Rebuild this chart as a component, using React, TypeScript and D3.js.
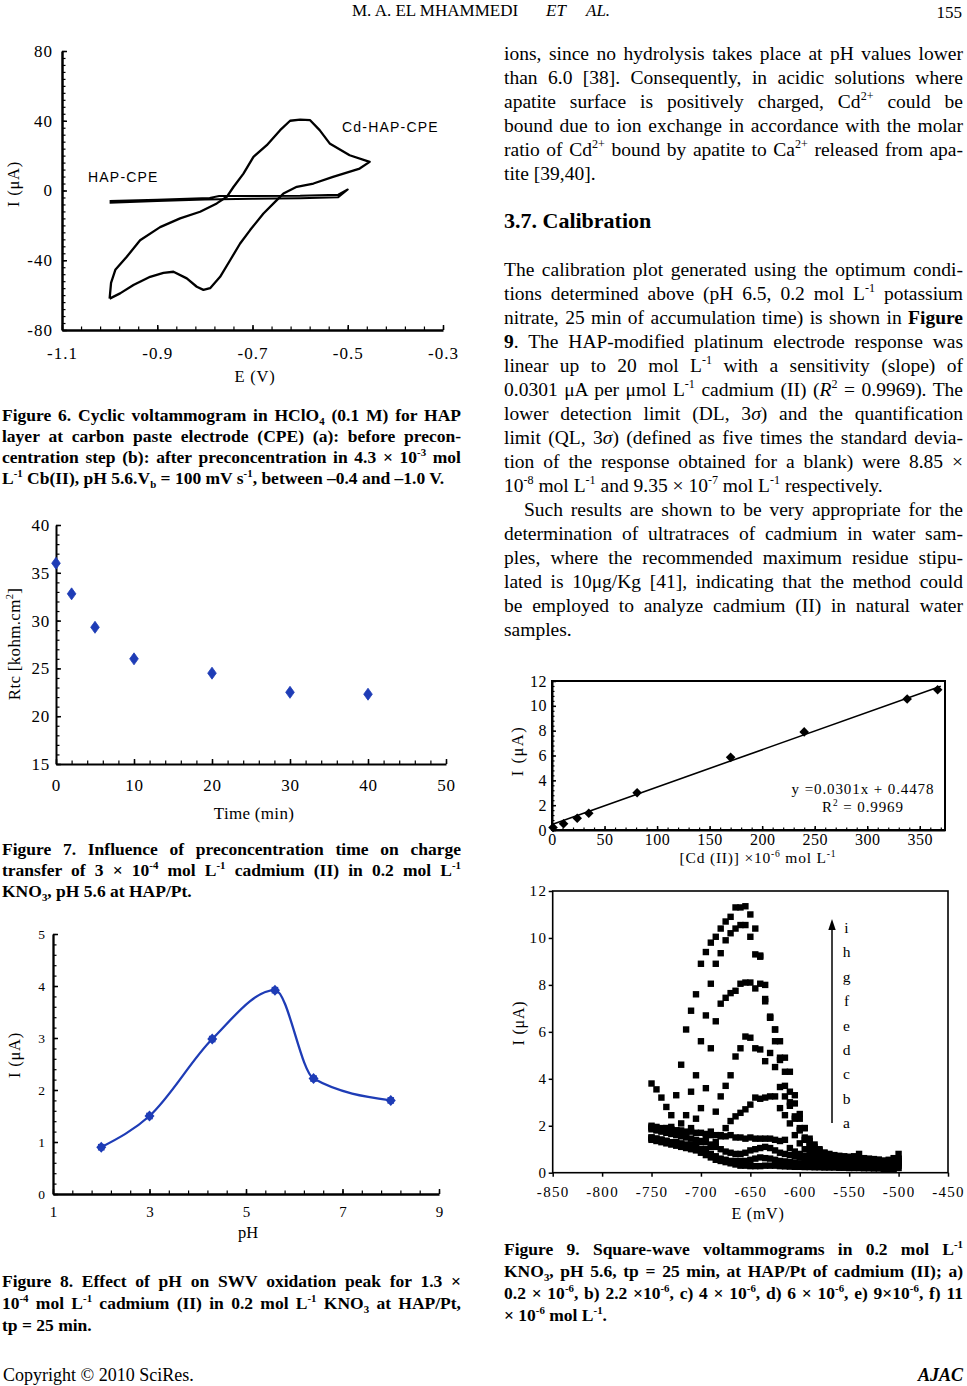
import { useEffect, useRef } from "react";
import * as d3 from "d3";

const SERIF = "'Liberation Serif', 'Times New Roman', serif";
const SANS = "'Liberation Sans', Arial, sans-serif";
const BLUE = "#1e3cb6";

// ---- Figure 6: cyclic voltammograms, [E (V), I (uA)]
const cdHapCpe: [number, number][] = [
  [-1.0, -62], [-0.997, -53], [-0.988, -45.5], [-0.964, -38], [-0.936, -28.5],
  [-0.894, -21], [-0.852, -16], [-0.81, -12.2], [-0.775, -7.4], [-0.754, -3.6],
  [-0.74, 2], [-0.719, 9.7], [-0.698, 19.3], [-0.67, 26], [-0.642, 34.6],
  [-0.621, 40], [-0.6, 40.7], [-0.579, 40.3], [-0.559, 34.6], [-0.538, 27],
  [-0.496, 20.2], [-0.454, 16.4], [-0.475, 12.6], [-0.531, 7.8], [-0.572, 4],
  [-0.607, 2.1], [-0.635, -1.7], [-0.649, -5.5], [-0.677, -13.2], [-0.705, -22.7],
  [-0.726, -30.4], [-0.747, -40], [-0.768, -49.5], [-0.789, -56], [-0.803, -57],
  [-0.817, -55.2], [-0.838, -50.4], [-0.866, -46.6], [-0.887, -47.2], [-0.915, -49.5],
  [-0.95, -54.2], [-0.978, -59], [-1.0, -62],
];
const hapCpe: [number, number][] = [
  [-1.0, -6.0], [-0.9, -5.3], [-0.79, -4.3], [-0.77, -3.2], [-0.6, -3.0],
  [-0.52, -2.4], [-0.5, 0.6], [-0.52, -3.8], [-0.6, -4.4], [-0.7, -4.8],
  [-0.8, -5.2], [-0.9, -6.0], [-1.0, -7.0],
];
const fig6ETicks = [-1.1, -0.9, -0.7, -0.5, -0.3];
const fig6ITicks = [-80, -40, 0, 40, 80];

// ---- Figure 7: Rtc vs preconcentration time
const fig7Time = [0, 2, 5, 10, 20, 30, 40];
const fig7Rtc = [36, 32.8, 29.3, 26, 24.5, 22.5, 22.3];
const fig7TimeTicks = [0, 10, 20, 30, 40, 50];
const fig7RtcTicks = [15, 20, 25, 30, 35, 40];

// ---- Figure 8: peak current vs pH
const fig8Ph = [2, 3, 4.3, 5.6, 6.4, 8];
const fig8Peak = [0.9, 1.5, 2.98, 3.92, 2.22, 1.8];
const fig8PhTicks = [1, 3, 5, 7, 9];
const fig8ITicks = [0, 1, 2, 3, 4, 5];

// ---- Calibration plot
const calConc = [1, 11, 24, 35, 81, 170, 240, 338, 367];
const calCurrent = [0.2, 0.5, 0.95, 1.35, 3.0, 5.85, 7.9, 10.55, 11.3];
const calSlope = 0.0301;
const calIntercept = 0.4478;
const calFitRange = [0, 370];
const calConcTicks = [0, 50, 100, 150, 200, 250, 300, 350];
const calITicks = [0, 2, 4, 6, 8, 10, 12];

// ---- Figure 9: square-wave voltammograms (E in mV, I in uA)
const swvE = [
  -750, -745, -740, -735, -730, -725, -720, -715, -710, -705,
  -700, -695, -690, -685, -680, -675, -670, -665, -660, -655,
  -650, -645, -640, -635, -630, -625, -620, -615, -610, -605,
  -600, -595, -590, -585, -580, -575, -570, -565, -560, -555,
  -550, -545, -540, -535, -530, -525, -520, -515, -510, -505,
  -500,
];
const swvA = [
  1.40, 1.35, 1.30, 1.25, 1.20, 1.15, 1.10, 1.05, 1.00, 0.95,
  0.85, 0.75, 0.65, 0.55, 0.50, 0.45, 0.40, 0.35, 0.30, 0.30,
  0.28, 0.28, 0.28, 0.30, 0.30, 0.30, 0.28, 0.27, 0.26, 0.25,
  0.25, 0.24, 0.24, 0.23, 0.23, 0.22, 0.22, 0.22, 0.21, 0.21,
  0.20, 0.20, 0.20, 0.19, 0.19, 0.18, 0.18, 0.16, 0.15, 0.15,
  0.20,
];
const swvB = [
  1.50, 1.45, 1.40, 1.35, 1.30, 1.25, 1.20, 1.15, 1.10, 1.00,
  0.95, 0.90, 0.80, 0.70, 0.60, 0.55, 0.50, 0.50, 0.50, 0.50,
  0.55, 0.60, 0.65, 0.62, 0.60, 0.55, 0.50, 0.48, 0.45, 0.43,
  0.40, 0.38, 0.36, 0.35, 0.34, 0.33, 0.32, 0.31, 0.30, 0.30,
  0.29, 0.28, 0.28, 0.27, 0.26, 0.26, 0.25, 0.24, 0.22, 0.20,
  0.30,
];
const swvC = [
  1.85, 1.80, 1.75, 1.70, 1.65, 1.60, 1.55, 1.50, 1.45, 1.40,
  1.35, 1.30, 1.20, 1.10, 1.00, 0.90, 0.85, 0.80, 0.80, 0.85,
  0.95, 1.00, 1.05, 1.10, 1.05, 0.95, 0.85, 0.80, 0.75, 0.70,
  0.65, 0.60, 0.55, 0.52, 0.50, 0.48, 0.46, 0.45, 0.44, 0.43,
  0.42, 0.41, 0.40, 0.40, 0.39, 0.38, 0.37, 0.36, 0.33, 0.30,
  0.40,
];
const swvD = [
  2.00, 1.95, 1.90, 1.90, 1.85, 1.80, 1.80, 1.75, 1.75, 1.70,
  1.70, 1.65, 1.60, 1.60, 1.55, 1.55, 1.60, 1.50, 1.50, 1.45,
  1.50, 1.45, 1.45, 1.45, 1.45, 1.40, 1.35, 1.40, 1.05, 0.90,
  0.80, 0.72, 0.66, 0.62, 0.58, 0.55, 0.53, 0.51, 0.50, 0.49,
  0.48, 0.47, 0.46, 0.45, 0.44, 0.43, 0.42, 0.40, 0.38, 0.35,
  0.55,
];
const swvEc = [
  1.45, 1.40, 1.40, 1.35, 1.30, 1.25, 1.20, 1.15, 1.10, 1.05,
  1.00, 1.00, 1.10, 1.30, 1.60, 1.90, 2.20, 2.40, 2.55, 2.70,
  2.90, 3.20, 3.15, 3.20, 3.25, 3.25, 2.75, 2.45, 2.10, 1.60,
  1.25, 1.00, 0.85, 0.75, 0.68, 0.62, 0.58, 0.55, 0.53, 0.52,
  0.50, 0.49, 0.48, 0.47, 0.46, 0.45, 0.44, 0.42, 0.40, 0.38,
  0.50,
];
const swvF = [
  1.50, 1.45, 1.40, 1.35, 1.30, 1.30, 1.25, 1.20, 1.20, 1.25,
  1.30, 1.55, 1.75, 2.60, 3.25, 3.70, 4.15, 4.95, 5.30, 5.80,
  5.75, 5.30, 5.25, 4.75, 5.10, 4.50, 3.65, 3.25, 2.85, 2.30,
  1.80, 1.40, 1.10, 0.95, 0.80, 0.70, 0.65, 0.60, 0.56, 0.53,
  0.50, 0.48, 0.46, 0.45, 0.44, 0.43, 0.42, 0.40, 0.38, 0.35,
  0.45,
];
const swvG = [
  1.90, 1.85, 1.80, 1.75, 1.75, 1.70, 1.65, 1.60, 1.90, 2.30,
  2.75, 3.60, 5.30, 6.45, 7.20, 7.45, 7.65, 7.75, 8.05, 8.10,
  8.10, 7.85, 8.05, 7.40, 6.60, 6.10, 5.60, 4.90, 4.30, 3.30,
  2.50, 1.90, 1.45, 1.20, 1.00, 0.85, 0.75, 0.70, 0.65, 0.60,
  0.55, 0.52, 0.50, 0.48, 0.46, 0.44, 0.42, 0.40, 0.38, 0.36,
  0.50,
];
const swvH = [
  1.95, 1.90, 1.85, 1.90, 1.95, 1.80, 2.10, 2.45, 3.45, 4.15,
  5.60, 6.70, 8.05, 8.90, 9.35, 9.90, 10.20, 10.40, 10.55, 10.55,
  10.05, 9.30, 9.20, 7.30, 6.60, 5.60, 4.80, 3.70, 3.00, 2.40,
  1.90, 1.50, 1.20, 1.00, 0.85, 0.75, 0.70, 0.65, 0.62, 0.60,
  0.58, 0.56, 0.55, 0.53, 0.52, 0.50, 0.48, 0.46, 0.45, 0.48,
  0.60,
];
const swvI = [
  3.80, 3.55, 3.20, 2.80, 2.45, 3.30, 4.60, 6.10, 6.90, 7.60,
  8.90, 9.40, 9.80, 10.05, 10.40, 10.70, 10.90, 11.30, 11.30, 11.35,
  11.00, 10.40, 9.25, 8.00, 6.65, 6.10, 4.90, 4.30, 3.45, 2.95,
  2.30, 1.90, 1.35, 1.10, 0.95, 0.85, 0.80, 0.75, 0.72, 0.70,
  0.68, 0.70, 0.80, 0.62, 0.60, 0.58, 0.56, 0.52, 0.55, 0.62,
  0.80,
];
const swvSeries = [swvA, swvB, swvC, swvD, swvEc, swvF, swvG, swvH, swvI];
const swvLetters = ["i", "h", "g", "f", "e", "d", "c", "b", "a"];
const swvETicks = [-850, -800, -750, -700, -650, -600, -550, -500, -450];
const swvITicks = [0, 2, 4, 6, 8, 10, 12];

// ---- page text
type Seg = [string, string?];
const para1: Seg[][] = [
  [["ions, since no hydrolysis takes place at pH values lower"]],
  [["than 6.0 [38]. Consequently, in acidic solutions where"]],
  [["apatite surface is positively charged, Cd"], ["2+", "sup"], [" could be"]],
  [["bound due to ion exchange in accordance with the molar"]],
  [["ratio of Cd"], ["2+", "sup"], [" bound by apatite to Ca"], ["2+", "sup"], [" released from apa-"]],
  [["tite [39,40]."]],
];
const para2: Seg[][] = [
  [["The calibration plot generated using the optimum condi-"]],
  [["tions determined above (pH 6.5, 0.2 mol L"], ["-1", "sup"], [" potassium"]],
  [["nitrate, 25 min of accumulation time) is shown in "], ["Figure", "b"]],
  [["9", "b"], [". The HAP-modified platinum electrode response was"]],
  [["linear up to 20 mol L"], ["-1", "sup"], [" with a sensitivity (slope) of"]],
  [["0.0301 μA per μmol L"], ["-1", "sup"], [" cadmium (II) ("], ["R", "i"], ["2", "sup"], [" = 0.9969). The"]],
  [["lower detection limit (DL, 3"], ["σ", "i"], [") and the quantification"]],
  [["limit (QL, 3"], ["σ", "i"], [") (defined as five times the standard devia-"]],
  [["tion of the response obtained for a blank) were 8.85 ×"]],
  [["10"], ["-8", "sup"], [" mol L"], ["-1", "sup"], [" and 9.35 × 10"], ["-7", "sup"], [" mol L"], ["-1", "sup"], [" respectively."]],
];
const para3: Seg[][] = [
  [["Such results are shown to be very appropriate for the"]],
  [["determination of ultratraces of cadmium in water sam-"]],
  [["ples, where the recommended maximum residue stipu-"]],
  [["lated is 10μg/Kg [41], indicating that the method could"]],
  [["be employed to analyze cadmium (II) in natural water"]],
  [["samples."]],
];
const cap6: Seg[][] = [
  [["Figure 6. Cyclic voltammogram in HClO"], ["4", "sub"], [" (0.1 M) for HAP"]],
  [["layer at carbon paste electrode (CPE) (a): before precon-"]],
  [["centration step (b): after preconcentration in 4.3 × 10"], ["-3", "sup"], [" mol"]],
  [["L"], ["-1", "sup"], [" Cb(II), pH 5.6.V"], ["b", "sub"], [" = 100 mV s"], ["-1", "sup"], [", between –0.4 and –1.0 V."]],
];
const cap7: Seg[][] = [
  [["Figure 7. Influence of preconcentration time on charge"]],
  [["transfer of 3 × 10"], ["-4", "sup"], [" mol L"], ["-1", "sup"], [" cadmium (II) in 0.2 mol L"], ["-1", "sup"]],
  [["KNO"], ["3", "sub"], [", pH 5.6 at HAP/Pt."]],
];
const cap8: Seg[][] = [
  [["Figure 8. Effect of pH on SWV oxidation peak for 1.3 ×"]],
  [["10"], ["-4", "sup"], [" mol L"], ["-1", "sup"], [" cadmium (II) in 0.2 mol L"], ["-1", "sup"], [" KNO"], ["3", "sub"], [" at HAP/Pt,"]],
  [["tp = 25 min."]],
];
const cap9: Seg[][] = [
  [["Figure 9. Square-wave voltammograms in 0.2 mol L"], ["-1", "sup"]],
  [["KNO"], ["3", "sub"], [", pH 5.6, tp = 25 min, at HAP/Pt of cadmium (II); a)"]],
  [["0.2 × 10"], ["-6", "sup"], [", b) 2.2 ×10"], ["-6", "sup"], [", c) 4 × 10"], ["-6", "sup"], [", d) 6 × 10"], ["-6", "sup"], [", e) 9×10"], ["-6", "sup"], [", f) 11"]],
  [["× 10"], ["-6", "sup"], [" mol L"], ["-1", "sup"], ["."]],
];

type TextOpts = {
  size: number; family?: string; weight?: string; italic?: boolean;
  anchor?: string; ls?: number; width?: number;
};

function addText(parent: any, segs: Seg[], x: number, y: number, o: TextOpts) {
  const size = o.size;
  const t = parent.append("text")
    .attr("x", x).attr("y", y)
    .attr("font-family", o.family ?? SERIF)
    .attr("font-size", size)
    .attr("font-weight", o.weight ?? "normal")
    .attr("font-style", o.italic ? "italic" : "normal")
    .attr("text-anchor", o.anchor ?? "start")
    .attr("fill", "#000")
    .style("white-space", "pre");
  if (o.ls) t.attr("letter-spacing", o.ls);
  let shift = 0;
  segs.forEach(([s, k]) => {
    const ts = t.append("tspan").text(s);
    let target = 0;
    if (k === "sup") target = -0.4 * size;
    if (k === "sub") target = 0.25 * size;
    if (k === "sup" || k === "sub") ts.attr("font-size", size * 0.62);
    if (k === "i") ts.attr("font-style", "italic");
    if (k === "b") ts.attr("font-weight", "bold");
    if (target !== shift) {
      ts.attr("dy", target - shift);
      shift = target;
    }
  });
  if (o.width) {
    const w = (t.node() as SVGTextElement).getComputedTextLength();
    const n = segs.map((s) => s[0]).join("").split(" ").length - 1;
    if (n > 0) t.style("word-spacing", `${(o.width - w) / n}px`);
  }
  return t;
}

function block(parent: any, lines: Seg[][], x: number, y0: number, step: number, width: number, o: TextOpts, indent = 0) {
  lines.forEach((segs, i) => {
    const last = i === lines.length - 1;
    const dx = i === 0 ? indent : 0;
    addText(parent, segs, x + dx, y0 + i * step, { ...o, width: last ? undefined : width - dx });
  });
}

function styleAxis(g: any, size: number, ls: number, stroke: number) {
  g.attr("font-family", SERIF).attr("font-size", size);
  g.select(".domain").attr("stroke", "#000").attr("stroke-width", stroke);
  g.selectAll(".tick line").attr("stroke", "#000").attr("stroke-width", 1.5);
  g.selectAll(".tick text").attr("fill", "#000").attr("letter-spacing", ls);
}

function minorAxis(parent: any, gen: any, transform: string) {
  const g = parent.append("g").attr("transform", transform).call(gen);
  g.select(".domain").remove();
  g.selectAll(".tick line").attr("stroke", "#000").attr("stroke-width", 1.2);
}

const fmt = (d: any) => String(d);

export default function App() {
  const ref = useRef<SVGSVGElement | null>(null);

  useEffect(() => {
    if (!ref.current) return;
    const svg = d3.select(ref.current);
    svg.selectAll("*").remove();
    svg.append("rect").attr("width", 967).attr("height", 1386).attr("fill", "#fff");

    // ---------- header / footer ----------
    addText(svg, [["M. A. EL MHAMMEDI"]], 352, 16, { size: 17 });
    addText(svg, [["ET"]], 546, 16, { size: 17, italic: true });
    addText(svg, [["AL."]], 586, 16, { size: 17, italic: true });
    addText(svg, [["155"]], 962, 18, { size: 17, anchor: "end" });
    addText(svg, [["Copyright © 2010 SciRes."]], 3, 1381, { size: 18 });
    addText(svg, [["AJAC"]], 963, 1381, { size: 18, italic: true, anchor: "end", weight: "bold" });

    // ---------- right column body ----------
    const bodyO = { size: 19.5 };
    block(svg, para1, 504, 60, 24, 459, bodyO);
    addText(svg, [["3.7. Calibration"]], 504, 228, { size: 22, weight: "bold" });
    block(svg, para2, 504, 276, 24, 459, bodyO);
    block(svg, para3, 504, 516, 24, 459, bodyO, 20);

    // ---------- captions ----------
    const capO = { size: 17.5, weight: "bold" };
    block(svg, cap6, 2, 421, 21, 459, capO);
    block(svg, cap7, 2, 855, 21, 459, capO);
    block(svg, cap8, 2, 1287, 22, 459, capO);
    block(svg, cap9, 504, 1255, 22, 459, capO);

    // ---------- Figure 6 ----------
    {
      const x = d3.scaleLinear().domain([-1.1, -0.3]).range([62, 443]);
      const y = d3.scaleLinear().domain([-80, 80]).range([330, 51]);
      const gx = svg.append("g").attr("transform", `translate(0,${y(-80)})`)
        .call(d3.axisBottom(x).tickValues(fig6ETicks).tickFormat(fmt).tickSizeInner(-5).tickSizeOuter(0).tickPadding(16.7));
      styleAxis(gx, 17, 1, 2.5);
      minorAxis(svg, d3.axisBottom(x).tickValues(d3.range(-1.1, -0.299, 0.04)).tickFormat(() => "").tickSizeInner(-3.5).tickSizeOuter(0), `translate(0,${y(-80)})`);
      const gy = svg.append("g").attr("transform", `translate(${x(-1.1)},0)`)
        .call(d3.axisLeft(y).tickValues(fig6ITicks).tickFormat(fmt).tickSizeInner(-5).tickSizeOuter(0).tickPadding(9));
      styleAxis(gy, 17, 1, 2.5);
      minorAxis(svg, d3.axisLeft(y).tickValues(d3.range(-80, 80.1, 4)).tickFormat(() => "").tickSizeInner(-3.5).tickSizeOuter(0), `translate(${x(-1.1)},0)`);

      const line = d3.line<[number, number]>().x((d) => x(d[0])).y((d) => y(d[1]));
      svg.append("path").attr("d", line(cdHapCpe)).attr("fill", "none")
        .attr("stroke", "#000").attr("stroke-width", 2.3).attr("stroke-linejoin", "round");
      svg.append("path").attr("d", line(hapCpe)).attr("fill", "none")
        .attr("stroke", "#000").attr("stroke-width", 2).attr("stroke-linejoin", "round");

      addText(svg, [["Cd-HAP-CPE"]], 342, 131.5, { size: 14, family: SANS, ls: 1.2 });
      addText(svg, [["HAP-CPE"]], 88, 181.5, { size: 14, family: SANS, ls: 1.2 });
      addText(svg, [["E (V)"]], 255, 382, { size: 16.5, anchor: "middle", ls: 0.8 });
      const gl = svg.append("g").attr("transform", "translate(19,184) rotate(-90)");
      addText(gl, [["I (μA)"]], 0, 0, { size: 16.5, anchor: "middle", ls: 0.8 });
    }

    // ---------- Figure 7 ----------
    {
      const x = d3.scaleLinear().domain([0, 50]).range([56, 446]);
      const y = d3.scaleLinear().domain([15, 40]).range([764, 525]);
      const gx = svg.append("g").attr("transform", `translate(0,${y(15)})`)
        .call(d3.axisBottom(x).tickValues(fig7TimeTicks).tickFormat(fmt).tickSizeInner(-5).tickSizeOuter(0).tickPadding(14.7));
      styleAxis(gx, 17, 0.8, 2);
      minorAxis(svg, d3.axisBottom(x).tickValues(d3.range(0, 50.1, 2)).tickFormat(() => "").tickSizeInner(-3.5).tickSizeOuter(0), `translate(0,${y(15)})`);
      const gy = svg.append("g").attr("transform", `translate(${x(0)},0)`)
        .call(d3.axisLeft(y).tickValues(fig7RtcTicks).tickFormat(fmt).tickSizeInner(-5).tickSizeOuter(0).tickPadding(6));
      styleAxis(gy, 17, 0.8, 2);
      minorAxis(svg, d3.axisLeft(y).tickValues(d3.range(15, 40.1, 1)).tickFormat(() => "").tickSizeInner(-3.5).tickSizeOuter(0), `translate(${x(0)},0)`);

      svg.append("g").selectAll("path").data(fig7Time).enter().append("path")
        .attr("transform", (d, i) => `translate(${x(d)},${y(fig7Rtc[i])})`)
        .attr("d", "M0,-6L4.3,0L0,6L-4.3,0Z")
        .attr("fill", BLUE).attr("stroke", BLUE).attr("stroke-width", 0.8);

      addText(svg, [["Time (min)"]], 254, 819, { size: 17, anchor: "middle", ls: 0.3 });
      const gl = svg.append("g").attr("transform", "translate(20,644) rotate(-90)");
      addText(gl, [["Rtc [kohm.cm"], ["2", "sup"], ["]"]], 0, 0, { size: 17, anchor: "middle", ls: 0.3 });
    }

    // ---------- Figure 8 ----------
    {
      const x = d3.scaleLinear().domain([1, 9]).range([53, 439]);
      const y = d3.scaleLinear().domain([0, 5]).range([1194, 934]);
      const gx = svg.append("g").attr("transform", `translate(0,${y(0)})`)
        .call(d3.axisBottom(x).tickValues(fig8PhTicks).tickFormat(fmt).tickSizeInner(-5).tickSizeOuter(0).tickPadding(12.2));
      styleAxis(gx, 15, 0, 2.3);
      minorAxis(svg, d3.axisBottom(x).tickValues(d3.range(1, 9.01, 0.4)).tickFormat(() => "").tickSizeInner(-3.5).tickSizeOuter(0), `translate(0,${y(0)})`);
      const gy = svg.append("g").attr("transform", `translate(${x(1)},0)`)
        .call(d3.axisLeft(y).tickValues(fig8ITicks).tickFormat(fmt).tickSizeInner(-5).tickSizeOuter(0).tickPadding(8));
      styleAxis(gy, 13.5, 0, 2.3);
      minorAxis(svg, d3.axisLeft(y).tickValues(d3.range(0, 5.01, 0.2)).tickFormat(() => "").tickSizeInner(-3.5).tickSizeOuter(0), `translate(${x(1)},0)`);

      const pts = fig8Ph.map((p, i) => [p, fig8Peak[i]] as [number, number]);
      const line = d3.line<[number, number]>().x((d) => x(d[0])).y((d) => y(d[1])).curve(d3.curveMonotoneX);
      svg.append("path").attr("d", line(pts)).attr("fill", "none")
        .attr("stroke", BLUE).attr("stroke-width", 2.3);
      const mk = svg.append("g").selectAll("g").data(pts).enter().append("g")
        .attr("transform", (d) => `translate(${x(d[0])},${y(d[1])})`);
      mk.append("path").attr("d", "M0,-5.5L5,0L0,5.5L-5,0Z").attr("fill", BLUE);
      mk.append("rect").attr("x", -3.3).attr("y", -3.3).attr("width", 6.6).attr("height", 6.6).attr("fill", BLUE);

      addText(svg, [["pH"]], 248, 1238, { size: 16.5, anchor: "middle" });
      const gl = svg.append("g").attr("transform", "translate(20,1055) rotate(-90)");
      addText(gl, [["I (μA)"]], 0, 0, { size: 16.5, anchor: "middle", ls: 0.8 });
    }

    // ---------- Calibration ----------
    {
      const x = d3.scaleLinear().domain([0, 374]).range([552, 945]);
      const y = d3.scaleLinear().domain([0, 12]).range([830, 681]);
      svg.append("rect").attr("x", x(0)).attr("y", y(12)).attr("width", x(374) - x(0)).attr("height", y(0) - y(12))
        .attr("fill", "none").attr("stroke", "#000").attr("stroke-width", 2);
      const gx = svg.append("g").attr("transform", `translate(0,${y(0)})`)
        .call(d3.axisBottom(x).tickValues(calConcTicks).tickFormat(fmt).tickSizeInner(-4).tickSizeOuter(0).tickPadding(4));
      styleAxis(gx, 16, 0.5, 2);
      minorAxis(svg, d3.axisBottom(x).tickValues(d3.range(0, 371, 10)).tickFormat(() => "").tickSizeInner(-2.5).tickSizeOuter(0), `translate(0,${y(0)})`);
      const gy = svg.append("g").attr("transform", `translate(${x(0)},0)`)
        .call(d3.axisLeft(y).tickValues(calITicks).tickFormat(fmt).tickSizeInner(-4).tickSizeOuter(0).tickPadding(5));
      styleAxis(gy, 16, 0.5, 2);
      minorAxis(svg, d3.axisLeft(y).tickValues(d3.range(0, 12.01, 0.4)).tickFormat(() => "").tickSizeInner(-2.5).tickSizeOuter(0), `translate(${x(0)},0)`);

      const fit = d3.line<number>().x((c) => x(c)).y((c) => y(calSlope * c + calIntercept));
      svg.append("path").attr("d", fit(calFitRange)).attr("fill", "none").attr("stroke", "#000").attr("stroke-width", 1.6);
      svg.append("g").selectAll("path").data(calConc).enter().append("path")
        .attr("transform", (d, i) => `translate(${x(d)},${y(calCurrent[i])})`)
        .attr("d", "M0,-4.8L4.8,0L0,4.8L-4.8,0Z").attr("fill", "#000");

      addText(svg, [["y =0.0301x + 0.4478"]], 863, 794, { size: 15, anchor: "middle", ls: 0.9 });
      addText(svg, [["R"], ["2", "sup"], [" = 0.9969"]], 863, 812, { size: 15, anchor: "middle", ls: 0.9 });
      addText(svg, [["[Cd (II)] ×10"], ["-6", "sup"], [" mol L"], ["-1", "sup"]], 758, 863, { size: 15.5, anchor: "middle", ls: 0.8 });
      const gl = svg.append("g").attr("transform", "translate(523,751) rotate(-90)");
      addText(gl, [["I (μA)"]], 0, 0, { size: 16.5, anchor: "middle", ls: 1.5 });
    }

    // ---------- Figure 9 ----------
    {
      const x = d3.scaleLinear().domain([-850, -450]).range([552.7, 948]);
      const y = d3.scaleLinear().domain([0, 12]).range([1172.7, 891]);
      svg.append("rect").attr("x", x(-850)).attr("y", y(12)).attr("width", x(-450) - x(-850)).attr("height", y(0) - y(12))
        .attr("fill", "none").attr("stroke", "#000").attr("stroke-width", 1.6);
      const gx = svg.append("g").attr("transform", `translate(0,${y(0)})`)
        .call(d3.axisBottom(x).tickValues(swvETicks).tickFormat(fmt).tickSizeInner(4).tickSizeOuter(0).tickPadding(9.5));
      styleAxis(gx, 15, 1.3, 1.6);
      gx.select(".domain").remove();
      const gy = svg.append("g").attr("transform", `translate(${x(-850)},0)`)
        .call(d3.axisLeft(y).tickValues(swvITicks).tickFormat(fmt).tickSizeInner(4).tickSizeOuter(0).tickPadding(1.5));
      styleAxis(gy, 15, 1.3, 1.6);
      gy.select(".domain").remove();

      const sq = 6.4;
      swvSeries.forEach((vals) => {
        svg.append("g").selectAll("rect").data(vals).enter().append("rect")
          .attr("x", (v, j) => x(swvE[j]) - sq / 2)
          .attr("y", (v) => y(v) - sq / 2)
          .attr("width", sq).attr("height", sq).attr("fill", "#000");
      });

      // arrow and curve letters
      svg.append("line").attr("x1", 832).attr("x2", 832).attr("y1", 1123).attr("y2", 928)
        .attr("stroke", "#000").attr("stroke-width", 1.5);
      svg.append("path").attr("d", "M832,919L828.3,930L835.7,930Z").attr("fill", "#000");
      const ly = d3.scalePoint<string>().domain(swvLetters).range([933, 1128]);
      swvLetters.forEach((l) => addText(svg, [[l]], 846.5, ly(l) as number, { size: 15.5, anchor: "middle" }));

      addText(svg, [["E (mV)"]], 758, 1219, { size: 16, anchor: "middle", ls: 0.8 });
      const gl = svg.append("g").attr("transform", "translate(524,1023) rotate(-90)");
      addText(gl, [["I (μA)"]], 0, 0, { size: 16, anchor: "middle", ls: 0.8 });
    }
  }, []);

  return (
    <svg
      ref={ref}
      width={967}
      height={1386}
      style={{ position: "absolute", left: 0, top: 0, background: "#fff" }}
    />
  );
}
